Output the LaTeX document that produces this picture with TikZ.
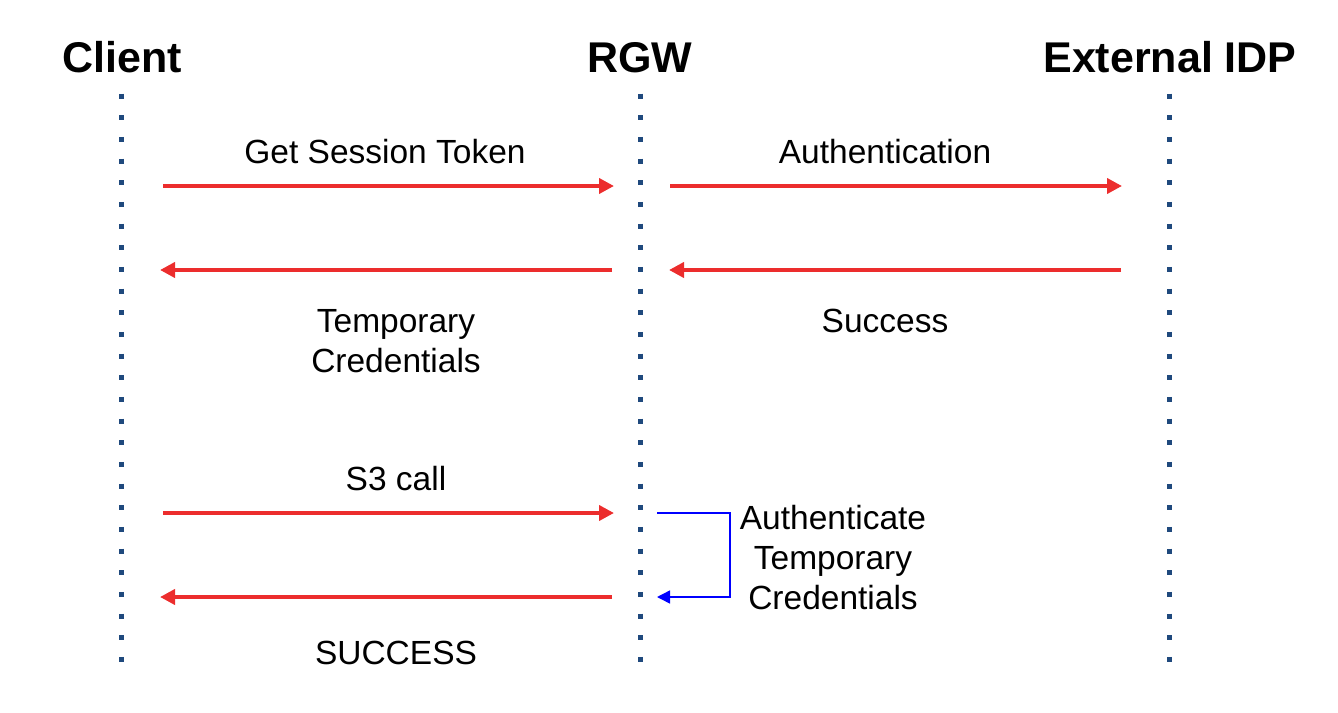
\documentclass[tikz,border=0pt]{standalone}
\usepackage{fontspec}
\setmainfont{Liberation Sans}
\usetikzlibrary{arrows.meta}
\definecolor{msgred}{HTML}{EC2D2D}
\definecolor{lifeblue}{HTML}{1F497D}
\begin{document}
\begin{tikzpicture}[x=1pt, y=-1pt,
        actor/.style={anchor=base, font=\fontsize{43}{50}\selectfont\bfseries},
        msg/.style={line width=4pt, msgred, -{Triangle[length=15pt, width=15pt]}},
        lbl/.style={anchor=base, align=center, font=\fontsize{33.5}{40}\selectfont},
        life/.style={line width=5pt, lifeblue, dash pattern=on 5pt off 16.67pt}]
        \useasboundingbox (0,0) rectangle (1338,712);
        \node[actor] (client) at (122,72) {Client};
        \node[actor] (rgw) at (640,72) {RGW};
        \node[actor] (idp) at (1170,72) {External IDP};

        \draw[life] (121.7,93.5) -- (121.7,663);
        \draw[life] (640,93.5) -- (640,663);
        \draw[life] (1169.5,93.5) -- (1169.5,663);

        \coordinate (c1) at (163,186); \coordinate (r1) at (614,186);
        \coordinate (r2) at (670,186); \coordinate (i2) at (1122,186);
        \coordinate (i3) at (1121,270); \coordinate (r3) at (669,270);
        \coordinate (r4) at (612,270); \coordinate (c4) at (160,270);
        \coordinate (c5) at (163,513); \coordinate (r5) at (614,513);
        \coordinate (r6) at (612,597); \coordinate (c6) at (160,597);
        \coordinate (b1) at (657,513); \coordinate (b2) at (657,597);

        \draw[msg] (c1) -- (r1);
        \draw[msg] (r2) -- (i2);
        \draw[msg] (i3) -- (r3);
        \draw[msg] (r4) -- (c4);
        \draw[msg] (c5) -- (r5);
        \draw[msg] (r6) -- (c6);
        \draw[line width=1.5pt, blue, -{Triangle[length=13pt, width=13pt]}] (b1) -- ++(73,0) |- (b2);

        \node[lbl] (gst) at (385,163) {Get Session Token};
        \node[lbl] (auth) at (885,163) {Authentication};
        \node[lbl] (tmp) at (396,372) {Temporary\\Credentials};
        \node[lbl] (succ) at (885,332) {Success};
        \node[lbl] (s3) at (396,490) {S3 call};
        \node[lbl] (ok) at (396,664) {SUCCESS};
        \node[lbl] (atc) at (833,609) {Authenticate\\Temporary\\Credentials};
\end{tikzpicture}
\end{document}
